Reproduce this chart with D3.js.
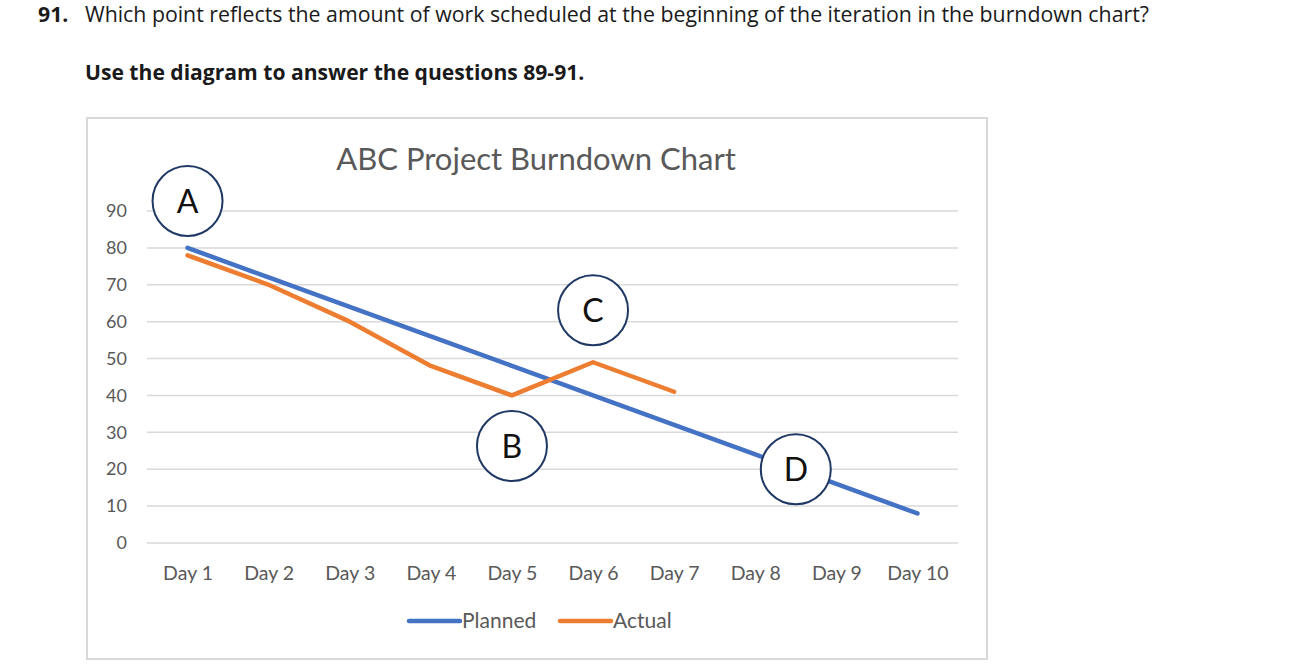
<!DOCTYPE html>
<html>
<head>
<meta charset="utf-8">
<script src="https://cdn.jsdelivr.net/npm/d3@7"></script>
<style>
  body { margin: 0; background: #fff; }
</style>
</head>
<body>
<svg id="svg"></svg>
<script>
// chart data
const days = ["Day 1", "Day 2", "Day 3", "Day 4", "Day 5", "Day 6", "Day 7", "Day 8", "Day 9", "Day 10"];
const planned = [80, 72, 64, 56, 48, 40, 32, 24, 16, 8];
const actual = [78, 70, 60, 48, 40, 49, 41];
const yTicks = [0, 10, 20, 30, 40, 50, 60, 70, 80, 90];
// circled letters: position in day index / value units
const marks = [
  { label: "A", day: 0, value: 92.7 },
  { label: "B", day: 4, value: 26.3 },
  { label: "C", day: 5, value: 63.1 },
  { label: "D", day: 7.5, value: 20 }
];

const width = 1292, height = 671;
const svg = d3.select("#svg").attr("width", width).attr("height", height);

const qFont = "'Open Sans', sans-serif";
const cFont = "Lato, sans-serif";

// question text
svg.append("text")
  .attr("x", 38).attr("y", 22)
  .attr("font-family", qFont).attr("font-size", 21.3).attr("font-weight", "bold")
  .attr("fill", "#1a1a1a")
  .text("91.");
svg.append("text")
  .attr("x", 85).attr("y", 22)
  .attr("font-family", qFont).attr("font-size", 21.3)
  .attr("fill", "#1a1a1a")
  .text("Which point reflects the amount of work scheduled at the beginning of the iteration in the burndown chart?");
svg.append("text")
  .attr("x", 85).attr("y", 80)
  .attr("font-family", qFont).attr("font-size", 21.1).attr("font-weight", "bold")
  .attr("fill", "#1a1a1a")
  .text("Use the diagram to answer the questions 89-91.");

// chart frame
svg.append("rect")
  .attr("x", 87).attr("y", 118)
  .attr("width", 900).attr("height", 541)
  .attr("fill", "#fff")
  .attr("stroke", "#d9d9d9").attr("stroke-width", 2);

svg.append("text")
  .attr("x", 536).attr("y", 170)
  .attr("text-anchor", "middle")
  .attr("font-family", cFont).attr("font-size", 31)
  .attr("fill", "#595959")
  .text("ABC Project Burndown Chart");

const x = d3.scalePoint().domain(days).range([147, 958]).padding(0.5);
const y = d3.scaleLinear().domain([0, 90]).range([543, 211]);
const xIdx = i => x(days[0]) + i * x.step();

// gridlines
svg.append("g")
  .selectAll("line")
  .data(yTicks)
  .enter()
  .append("line")
  .attr("x1", 147).attr("x2", 958)
  .attr("y1", d => y(d)).attr("y2", d => y(d))
  .attr("stroke", "#d9d9d9").attr("stroke-width", 1.5);

// y axis
const yAxis = svg.append("g")
  .attr("transform", "translate(127,0)")
  .call(d3.axisLeft(y).tickValues(yTicks).tickSize(0).tickPadding(0));
yAxis.select(".domain").remove();
yAxis.selectAll("text")
  .attr("font-family", cFont).attr("font-size", 18).attr("fill", "#595959");

// x axis
const xAxis = svg.append("g")
  .attr("transform", "translate(0,566)")
  .call(d3.axisBottom(x).tickSize(0).tickPadding(0));
xAxis.select(".domain").remove();
xAxis.selectAll("text")
  .attr("font-family", cFont).attr("font-size", 19.5).attr("fill", "#595959");

const line = d3.line()
  .x((d, i) => x(days[i]))
  .y(d => y(d));

svg.append("path")
  .datum(planned)
  .attr("d", line)
  .attr("fill", "none")
  .attr("stroke", "#4472c4").attr("stroke-width", 4.5)
  .attr("stroke-linecap", "round").attr("stroke-linejoin", "round");

svg.append("path")
  .datum(actual)
  .attr("d", line)
  .attr("fill", "none")
  .attr("stroke", "#ed7d31").attr("stroke-width", 4.5)
  .attr("stroke-linecap", "round").attr("stroke-linejoin", "round");

// legend
const legendItems = [
  { name: "Planned", color: "#4472c4", x: 409 },
  { name: "Actual", color: "#ed7d31", x: 560 }
];
legendItems.forEach(d => {
  const g = svg.append("g").attr("transform", `translate(${d.x},621)`);
  g.append("line")
    .attr("x1", 0).attr("x2", 51).attr("y1", 0).attr("y2", 0)
    .attr("stroke", d.color).attr("stroke-width", 4.5)
    .attr("stroke-linecap", "round");
  g.append("text")
    .attr("x", 53).attr("y", 7)
    .attr("font-family", cFont).attr("font-size", 21).attr("fill", "#595959")
    .text(d.name);
});

// circled letters
const mg = svg.append("g")
  .selectAll("g")
  .data(marks)
  .enter()
  .append("g")
  .attr("transform", d => `translate(${xIdx(d.day)},${y(d.value)})`);
mg.append("circle")
  .attr("r", 35)
  .attr("fill", "#fff")
  .attr("stroke", "#1f3864").attr("stroke-width", 2);
mg.append("text")
  .attr("text-anchor", "middle")
  .attr("dy", "0.36em")
  .attr("font-family", cFont).attr("font-size", 32)
  .attr("fill", "#111")
  .text(d => d.label);
</script>
</body>
</html>
